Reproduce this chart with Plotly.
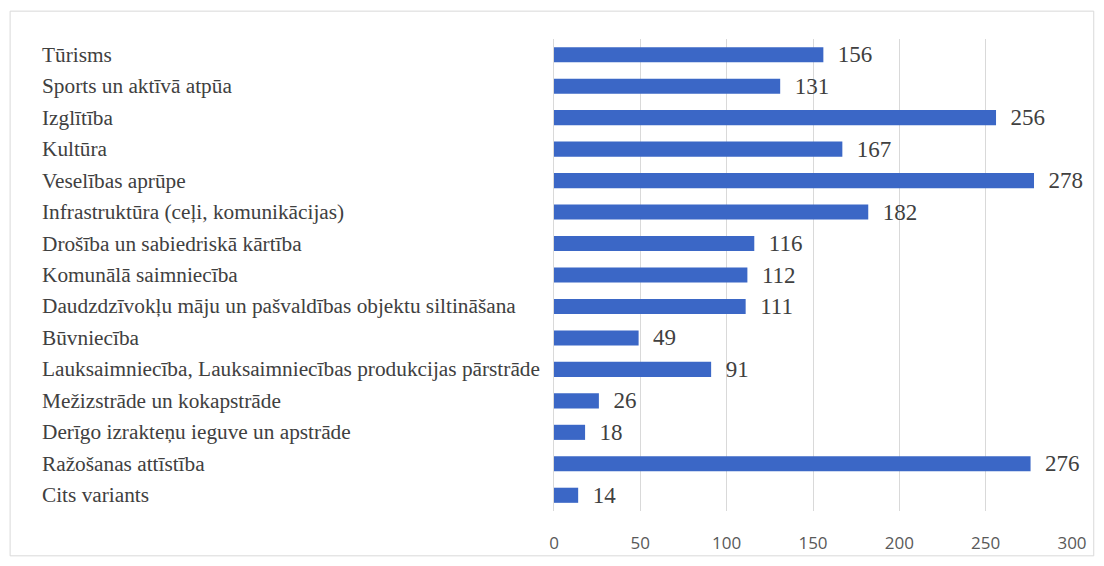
import plotly.graph_objects as go

categories = [
    "Tūrisms",
    "Sports un aktīvā atpūa",
    "Izglītība",
    "Kultūra",
    "Veselības aprūpe",
    "Infrastruktūra (ceļi, komunikācijas)",
    "Drošība un sabiedriskā kārtība",
    "Komunālā saimniecība",
    "Daudzdzīvokļu māju un pašvaldības objektu siltināšana",
    "Būvniecība",
    "Lauksaimniecība, Lauksaimniecības produkcijas pārstrāde",
    "Mežizstrāde un kokapstrāde",
    "Derīgo izrakteņu ieguve un apstrāde",
    "Ražošanas attīstība",
    "Cits variants",
]
values = [156, 131, 256, 167, 278, 182, 116, 112, 111, 49, 91, 26, 18, 276, 14]
x_ticks = [0, 50, 100, 150, 200, 250, 300]

fig = go.Figure()
fig.add_trace(go.Bar(
    y=categories,
    x=values,
    orientation="h",
    marker=dict(color="#3b67c6", line=dict(width=0)),
    width=0.48,
    text=values,
    texttemplate="  %{x}",
    textposition="outside",
    constraintext="none",
    cliponaxis=False,
    textfont=dict(family="Liberation Serif", size=23, color="#404040"),
))

for c in categories:
    fig.add_annotation(
        x=-0.992, xref="paper", y=c, yref="y",
        text=c, showarrow=False, xanchor="left", yanchor="middle",
        font=dict(family="Liberation Serif", size=21.3, color="#404040"),
    )

fig.add_shape(type="rect", xref="paper", yref="paper",
              x0=-1.05, x1=1.042, y0=-0.095, y1=1.059,
              line=dict(color="#d9d9d9", width=1), layer="below")

fig.update_layout(
    width=1104, height=566,
    margin=dict(l=546, r=40, t=31, b=63, autoexpand=False),
    paper_bgcolor="white", plot_bgcolor="white",
    showlegend=False,
    bargap=0.52,
    xaxis=dict(
        range=[0, 300], tickvals=x_ticks,
        showgrid=True, gridcolor="#d9d9d9", gridwidth=1,
        zeroline=False, showline=False,
        tickfont=dict(family="Open Sans", size=17, color="#595959"),
        ticks="", ticklen=0, ticklabelstandoff=20,
    ),
    yaxis=dict(
        autorange="reversed", showticklabels=False, showgrid=False,
        zeroline=False, showline=True, linecolor="#d9d9d9", linewidth=1,
    ),
)

fig.write_html("out.html")
